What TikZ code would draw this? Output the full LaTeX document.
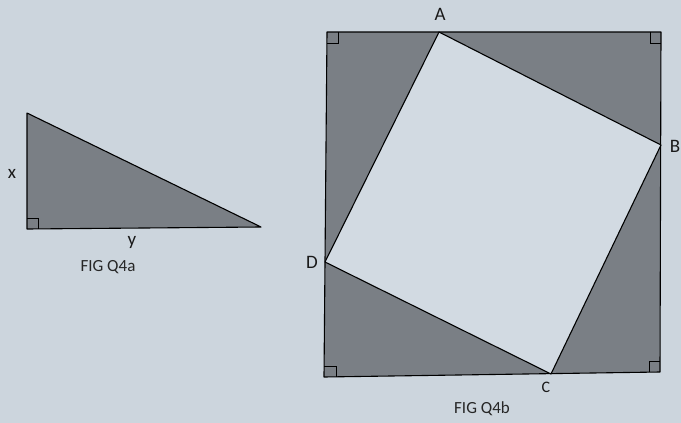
\documentclass[tikz,border=0pt]{standalone}
\usepackage{fontspec}
\setmainfont{Carlito}
\definecolor{bg}{RGB}{204,213,221}
\definecolor{darkgrey}{RGB}{122,127,133}
\definecolor{paleface}{RGB}{210,218,226}
\begin{document}
\begin{tikzpicture}[x=1pt,y=-1pt,
  shaded/.style={fill=darkgrey,draw=black,line width=1.1pt,line join=round},
  lightpart/.style={fill=paleface,draw=black,line width=1.1pt,line join=round},
  rmark/.style={draw=black,line width=0.9pt},
  lbl/.style={font=\fontsize{19}{19}\selectfont,text=black!90},
  figcap/.style={font=\fontsize{17}{17}\selectfont,text=black!85}]
\fill[bg] (0,0) rectangle (681,423);
\useasboundingbox (0,0) rectangle (681,423);
% Fig Q4a
\coordinate (T1) at (27,113);
\coordinate (T2) at (27,229);
\coordinate (T3) at (261,227);
\draw[shaded] (T1) -- (T2) -- (T3) -- cycle;
\draw[rmark] (27,218) -- (38,218) -- (38,229);
\node[lbl] (lx) at (12,174) {x};
\node[lbl] (ly) at (132,242) {y};
\node[figcap] (fa) at (108,267) {FIG Q4a};
% Fig Q4b
\coordinate (TL) at (327,32);
\coordinate (TR) at (661,32);
\coordinate (BR) at (660,372);
\coordinate (BL) at (324,377);
\coordinate (A) at (439,32);
\coordinate (B) at (661,145);
\coordinate (C) at (551,374);
\coordinate (D) at (325,262);
\draw[shaded] (TL) -- (TR) -- (BR) -- (BL) -- cycle;
\draw[lightpart] (A) -- (B) -- (C) -- (D) -- cycle;
\draw[rmark] (327,43) -- (338,43) -- (338,32);
\draw[rmark] (650,32) -- (650,43) -- (661,43);
\draw[rmark] (324,366) -- (336,366) -- (336,377);
\draw[rmark] (649,372) -- (649,361) -- (660,361);
\node[lbl] (la) at (440,14) {A};
\node[lbl,anchor=east,inner sep=0.5pt] (lb) at (681,146) {B};
\node[lbl,font=\fontsize{16}{16}\selectfont] (lc) at (546,387) {C};
\node[lbl] (ld) at (312,262) {D};
\node[figcap] (fb) at (482,409) {FIG Q4b};
\end{tikzpicture}
\end{document}
